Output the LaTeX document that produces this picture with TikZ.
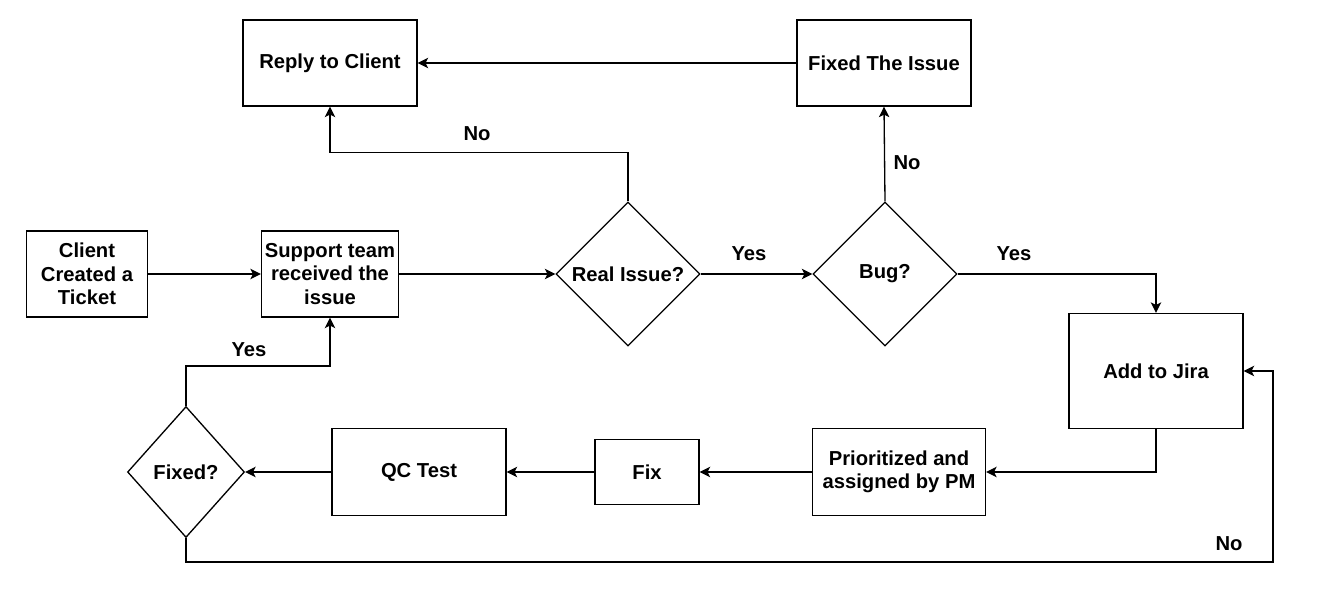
\documentclass[tikz,border=0pt]{standalone}
\usepackage{fontspec}
\setmainfont{Liberation Sans}
\usetikzlibrary{shapes.geometric,arrows.meta}

\begin{document}
\begin{tikzpicture}[x=0.02cm,y=-0.02cm,
  every node/.style={font=\fontsize{11.5}{13.3}\selectfont\bfseries, align=center},
  box/.style={draw, line width=0.75pt, inner sep=0pt},
  decision/.style={draw, diamond, aspect=1, line width=0.75pt, inner sep=0pt},
  arr/.style={line width=0.75pt, -{Stealth[length=6pt,width=6pt,inset=1.5pt]}}]
\useasboundingbox (0,0) rectangle (1334,610);

\node[box, minimum width=3.48cm, minimum height=1.72cm] (reply) at (330,63) {Reply to Client};
\node[box, minimum width=3.48cm, minimum height=1.72cm] (fixedissue) at (884,63) {Fixed The Issue};
\node[box, minimum width=2.42cm, minimum height=1.72cm] (client) at (87,274) {Client\\Created a\\Ticket};
\node[box, minimum width=2.74cm, minimum height=1.72cm] (support) at (330,274) {Support team\\received the\\issue};
\node[decision, minimum width=2.88cm, minimum height=2.88cm] (real) at (628,274) {Real Issue?};
\node[decision, minimum width=2.88cm, minimum height=2.88cm] (bug) at (885,274) {Bug?};
\node[box, minimum width=3.48cm, minimum height=2.30cm] (jira) at (1156,371) {Add to Jira};
\node[box, minimum width=3.46cm, minimum height=1.74cm] (prio) at (899,472) {Prioritized and\\assigned by PM};
\node[box, minimum width=2.08cm, minimum height=1.30cm] (fix) at (647,472) {Fix};
\node[box, minimum width=3.48cm, minimum height=1.74cm] (qc) at (419,472) {QC Test};
\node[decision, minimum width=2.34cm, minimum height=2.62cm] (fixedq) at (186,472) {Fixed?};
\coordinate (corner) at (1273,562);

% connectors
\draw[arr] (client) -- (support);
\draw[arr] (support) -- (real);
\draw[arr] (real.north) -- ++(0,-49) -| (reply.south);
\draw[arr] (real) -- (bug);
\draw[arr] (bug.north) -- (fixedissue.south);
\draw[arr] (fixedissue) -- (reply);
\draw[arr] (bug.east) -| (jira.north);
\draw[arr] (jira.south) |- (prio.east);
\draw[arr] (prio) -- (fix);
\draw[arr] (fix) -- (qc);
\draw[arr] (qc) -- (fixedq);
\draw[arr] (fixedq.north) -- ++(0,-40) -| (support.south);
\draw[arr] (fixedq.south) |- (corner) |- (jira.east);

% labels
\node (noreply) at (477,134) {No};
\node (yesbug) at (749,254) {Yes};
\node (nobug) at (907,163) {No};
\node (yesjira) at (1014,254) {Yes};
\node (yesfixed) at (249,350) {Yes};
\node (nofixed) at (1229,544) {No};
\end{tikzpicture}
\end{document}
